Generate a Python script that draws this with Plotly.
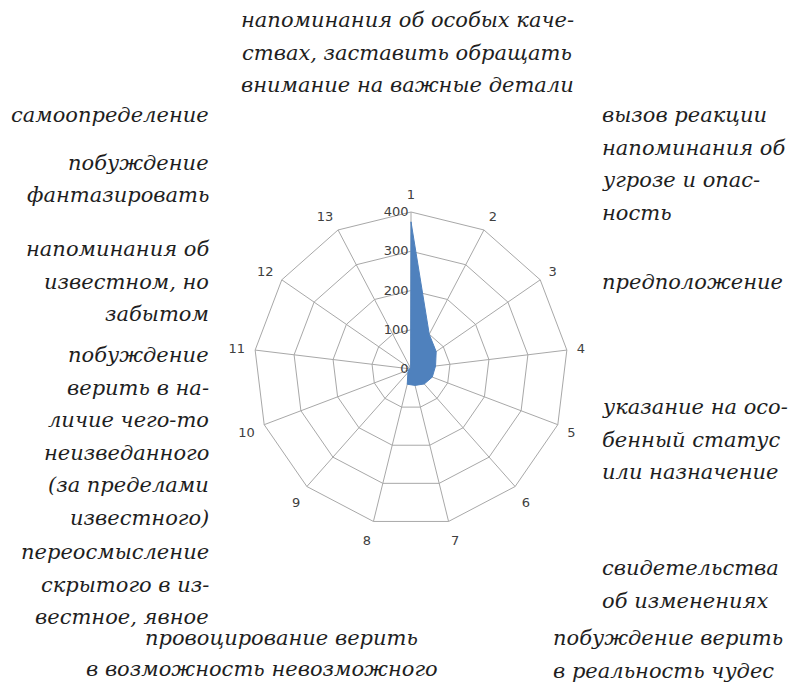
import plotly.graph_objects as go

# Radar axes 1..13 and the score on each
categories = [str(i) for i in range(1, 14)]
values = [375, 100, 78, 63, 58, 51, 43, 40, 12, 6, 4, 3, 2]
radial_ticks = [0, 100, 200, 300, 400]

# Descriptive captions placed around the radar
top_caption = ["напоминания об особых каче-", "ствах, заставить обращать", "внимание на важные детали"]
left_captions = [
    ["самоопределение"],
    ["побуждение", "фантазировать"],
    ["напоминания об", "известном, но", "забытом"],
    ["побуждение", "верить в на-", "личие чего-то", "неизведанного", "(за пределами", "известного)"],
    ["переосмысление", "скрытого в из-", "вестное, явное"],
]
right_captions = [
    ["вызов реакции", "напоминания об", "угрозе и опас-", "ность"],
    ["предположение"],
    ["указание на осо-", "бенный статус", "или назначение"],
    ["свидетельства", "об изменениях"],
]
bottom_left_caption = ["провоцирование верить", "в возможность невозможного"]
bottom_right_caption = ["побуждение верить", "в реальность чудес"]

W, H = 800, 688
GRID = "#a8a8a8"
TEXT_DARK = "#404040"
CAPTION_FONT = dict(family="DejaVu Serif", size=21, color="#1e1e1e", style="italic")

fig = go.Figure()
fig.add_trace(go.Scatterpolar(
    r=values + values[:1],
    theta=categories + categories[:1],
    mode="lines",
    fill="toself",
    fillcolor="#4F81BD",
    line=dict(color="#4F81BD", width=1),
    hoverinfo="skip",
    showlegend=False,
))

cx, cy, R = 411, 369, 157
fig.update_layout(
    width=W, height=H,
    margin=dict(l=0, r=0, t=0, b=0),
    paper_bgcolor="white",
    plot_bgcolor="white",
    showlegend=False,
    polar=dict(
        domain=dict(x=[(cx - R) / W, (cx + R) / W],
                    y=[(H - cy - R) / H, (H - cy + R) / H]),
        gridshape="linear",
        bgcolor="white",
        radialaxis=dict(
            range=[0, 400],
            tickvals=radial_ticks,
            angle=90,
            tickangle=90,
            side="counterclockwise",
            showline=False,
            gridcolor=GRID,
            gridwidth=1,
            ticks="",
            tickfont=dict(family="DejaVu Sans", size=13, color=TEXT_DARK),
            layer="above traces",
        ),
        angularaxis=dict(
            type="category",
            categoryarray=categories,
            direction="clockwise",
            rotation=90,
            showline=True,
            linecolor=GRID,
            linewidth=1,
            gridcolor=GRID,
            gridwidth=1,
            ticks="outside",
            ticklen=7,
            tickcolor="rgba(0,0,0,0)",
            tickfont=dict(family="DejaVu Sans", size=13, color=TEXT_DARK),
            layer="above traces",
        ),
    ),
)

LINE_H = 32.5


def add_caption(lines, x, y_top, xanchor, align):
    # one annotation per line keeps the line pitch fixed at LINE_H
    for k, s in enumerate(lines):
        fig.add_annotation(
            text=s,
            x=x / W, y=1 - (y_top + k * LINE_H) / H,
            xref="paper", yref="paper",
            xanchor=xanchor, yanchor="top",
            align=align,
            showarrow=False,
            font=CAPTION_FONT,
        )


add_caption(top_caption, 407, 6, "center", "center")

left_tops = [101, 149, 235, 341, 538]
for lines, top in zip(left_captions, left_tops):
    add_caption(lines, 211, top, "right", "right")

right_tops = [101, 268, 393, 554]
for lines, top in zip(right_captions, right_tops):
    add_caption(lines, 600, top, "left", "left")

add_caption(bottom_left_caption[:1], 281, 624, "center", "center")
add_caption(bottom_left_caption[1:], 262, 655, "center", "center")
add_caption(bottom_right_caption, 551, 624, "left", "left")

fig.write_html("out.html")
